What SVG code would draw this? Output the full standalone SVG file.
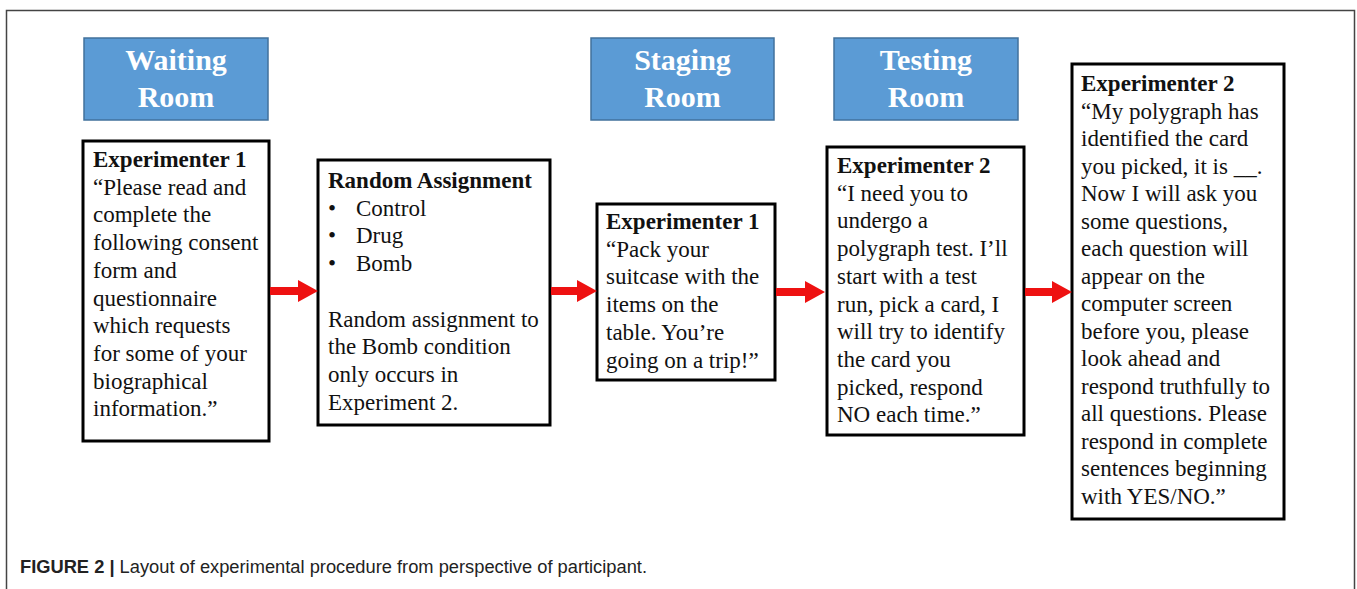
<svg xmlns="http://www.w3.org/2000/svg" width="1357" height="589" viewBox="0 0 1357 589">
<style>
.room{fill:#5b9bd5;stroke:#41719c;stroke-width:1.5}
.rt{font-family:"Liberation Serif",serif;font-weight:bold;font-size:30px;fill:#fff;text-anchor:middle}
.box{fill:#fff;stroke:#000;stroke-width:3}
.t{font-family:"Liberation Serif",serif;font-size:23px;fill:#111}
.b{font-weight:bold}
.arrow{fill:#ee1111}
.cap{font-family:"Liberation Sans",sans-serif;font-size:18.3px;fill:#222}
</style>
<rect x="0" y="0" width="1357" height="589" fill="#fff"/>
<path d="M6.5 589 V10.5 H1354.5 V589" fill="none" stroke="#444" stroke-width="1.5"/>
<g id="waiting-room"><rect class="room" x="84" y="38" width="184" height="82"/><text class="rt" x="176" y="70">Waiting</text><text class="rt" x="176" y="107">Room</text></g>
<g id="staging-room"><rect class="room" x="591" y="38" width="183" height="82"/><text class="rt" x="682.5" y="70">Staging</text><text class="rt" x="682.5" y="107">Room</text></g>
<g id="testing-room"><rect class="room" x="834" y="38" width="184" height="82"/><text class="rt" x="926" y="70">Testing</text><text class="rt" x="926" y="107">Room</text></g>
<g id="step1"><rect class="box" x="83" y="141" width="186" height="300"/>
<text class="t" x="93" y="167"><tspan class="b">Experimenter 1</tspan><tspan x="93" dy="27.7">“Please read and</tspan><tspan x="93" dy="27.7">complete the</tspan><tspan x="93" dy="27.7">following consent</tspan><tspan x="93" dy="27.7">form and</tspan><tspan x="93" dy="27.7">questionnaire</tspan><tspan x="93" dy="27.7">which requests</tspan><tspan x="93" dy="27.7">for some of your</tspan><tspan x="93" dy="27.7">biographical</tspan><tspan x="93" dy="27.7">information.”</tspan></text></g>
<g id="step2"><rect class="box" x="318" y="160" width="232" height="265"/>
<text class="t" x="328" y="188"><tspan class="b">Random Assignment</tspan><tspan x="328" dy="27.7">•</tspan><tspan x="356">Control</tspan><tspan x="328" dy="27.7">•</tspan><tspan x="356">Drug</tspan><tspan x="328" dy="27.7">•</tspan><tspan x="356">Bomb</tspan><tspan x="328" dy="55.4">Random assignment to</tspan><tspan x="328" dy="27.7">the Bomb condition</tspan><tspan x="328" dy="27.7">only occurs in</tspan><tspan x="328" dy="27.7">Experiment 2.</tspan></text></g>
<g id="step3"><rect class="box" x="597" y="204" width="178" height="176"/>
<text class="t" x="606" y="229"><tspan class="b">Experimenter 1</tspan><tspan x="606" dy="27.7">“Pack your</tspan><tspan x="606" dy="27.7">suitcase with the</tspan><tspan x="606" dy="27.7">items on the</tspan><tspan x="606" dy="27.7">table. You’re</tspan><tspan x="606" dy="27.7">going on a trip!”</tspan></text></g>
<g id="step4"><rect class="box" x="827" y="147" width="197" height="288"/>
<text class="t" x="837" y="173"><tspan class="b">Experimenter 2</tspan><tspan x="837" dy="27.7">“I need you to</tspan><tspan x="837" dy="27.7">undergo a</tspan><tspan x="837" dy="27.7">polygraph test. I’ll</tspan><tspan x="837" dy="27.7">start with a test</tspan><tspan x="837" dy="27.7">run, pick a card, I</tspan><tspan x="837" dy="27.7">will try to identify</tspan><tspan x="837" dy="27.7">the card you</tspan><tspan x="837" dy="27.7">picked, respond</tspan><tspan x="837" dy="27.7">NO each time.”</tspan></text></g>
<g id="step5"><rect class="box" x="1072" y="64" width="212" height="455"/>
<text class="t" x="1081" y="91"><tspan class="b">Experimenter 2</tspan><tspan x="1081" dy="27.5">“My polygraph has</tspan><tspan x="1081" dy="27.5">identified the card</tspan><tspan x="1081" dy="27.5">you picked, it is __.</tspan><tspan x="1081" dy="27.5">Now I will ask you</tspan><tspan x="1081" dy="27.5">some questions,</tspan><tspan x="1081" dy="27.5">each question will</tspan><tspan x="1081" dy="27.5">appear on the</tspan><tspan x="1081" dy="27.5">computer screen</tspan><tspan x="1081" dy="27.5">before you, please</tspan><tspan x="1081" dy="27.5">look ahead and</tspan><tspan x="1081" dy="27.5">respond truthfully to</tspan><tspan x="1081" dy="27.5">all questions. Please</tspan><tspan x="1081" dy="27.5">respond in complete</tspan><tspan x="1081" dy="27.5">sentences beginning</tspan><tspan x="1081" dy="27.5">with YES/NO.”</tspan></text></g>
<g id="connectors">
<path class="arrow" d="M270 287 H298 V280 L318 291 L298 302 V295 H270 Z"/>
<path class="arrow" d="M551 287 H577 V280 L597 291 L577 302 V295 H551 Z"/>
<path class="arrow" d="M776 288 H805 V281 L825 292 L805 303 V296 H776 Z"/>
<path class="arrow" d="M1025 288 H1052 V281 L1072 292 L1052 303 V296 H1025 Z"/>
</g>
<text class="cap" x="20" y="573"><tspan font-weight="bold">FIGURE 2 |</tspan> Layout of experimental procedure from perspective of participant.</text>
</svg>
